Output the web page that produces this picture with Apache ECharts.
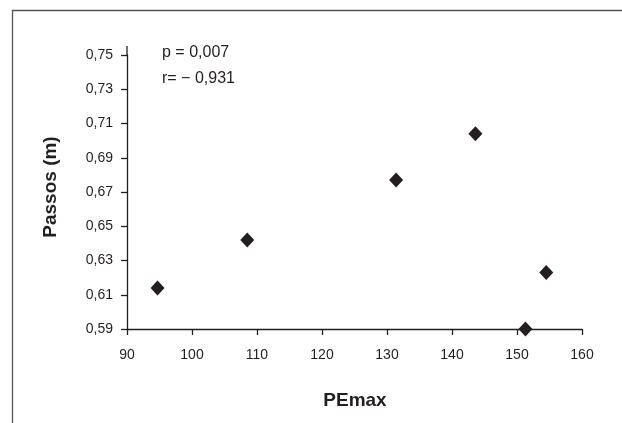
<!DOCTYPE html>
<html>
<head>
<meta charset="utf-8">
<script src="https://cdn.jsdelivr.net/npm/echarts@6/dist/echarts.min.js"></script>
<style>
  html, body { margin: 0; padding: 0; background: #fff; }
  #chart { width: 622px; height: 423px; }
</style>
</head>
<body>
<div id="chart"></div>
<script>
// PEmax vs passos (m)
const pemax = [94.7, 108.5, 131.4, 143.6, 151.3, 154.5];
const passos = [0.614, 0.642, 0.677, 0.704, 0.590, 0.623];
const stats = ['p = 0,007', 'r= \u2212 0,931'];
const xName = 'PEmax';
const yName = 'Passos (m)';

const font = '"Liberation Sans Narrow", "Liberation Sans", Arial, sans-serif';
const ink = '#231f20';

const chart = echarts.init(document.getElementById('chart'));

const option = {
  animation: false,
  grid: { left: 127, right: 40, top: 55, bottom: 94 },
  xAxis: {
    type: 'value',
    min: 90,
    max: 160,
    interval: 10,
    axisLine: { show: true, onZero: false, lineStyle: { color: ink, width: 1.3 } },
    axisTick: { show: true, inside: false, length: 6, lineStyle: { color: ink, width: 1.3 } },
    axisLabel: { margin: 19, fontFamily: font, fontSize: 14, color: ink },
    splitLine: { show: false }
  },
  yAxis: {
    type: 'value',
    min: 0.59,
    max: 0.75,
    interval: 0.02,
    axisLine: { show: true, onZero: false, lineStyle: { color: ink, width: 1.3 } },
    axisTick: { show: true, inside: false, length: 6, lineStyle: { color: ink, width: 1.3 } },
    axisLabel: {
      margin: 14,
      fontFamily: font,
      fontSize: 14,
      color: ink,
      formatter: v => v.toFixed(2).replace('.', ',')
    },
    splitLine: { show: false }
  },
  graphic: [
    {
      type: 'rect',
      shape: { x: 12.5, y: 10.5, width: 640, height: 440 },
      style: { fill: 'none', stroke: '#555', lineWidth: 1.3 },
      silent: true
    },
    {
      type: 'line',
      shape: { x1: 127, y1: 46, x2: 127, y2: 55 },
      style: { stroke: ink, lineWidth: 1.3 },
      silent: true
    },
    {
      type: 'text',
      x: 355,
      y: 401,
      style: {
        text: xName, fontFamily: font, fontSize: 19, fontWeight: 'bold', fill: ink,
        align: 'center', verticalAlign: 'middle'
      }
    },
    {
      type: 'text',
      x: 51,
      y: 187,
      rotation: Math.PI / 2,
      style: {
        text: yName, fontFamily: font, fontSize: 19, fontWeight: 'bold', fill: ink,
        align: 'center', verticalAlign: 'middle'
      }
    },
    {
      type: 'text',
      left: 162,
      top: 45,
      style: { text: stats[0], fontFamily: font, fontSize: 16, fill: ink }
    },
    {
      type: 'text',
      left: 162,
      top: 71,
      style: { text: stats[1], fontFamily: font, fontSize: 16, fill: ink }
    }
  ],
  series: [{
    type: 'scatter',
    symbol: 'diamond',
    symbolSize: [14, 15],
    itemStyle: { color: ink, opacity: 1 },
    data: pemax.map((x, i) => [x, passos[i]])
  }]
};

chart.setOption(option);
</script>
</body>
</html>
